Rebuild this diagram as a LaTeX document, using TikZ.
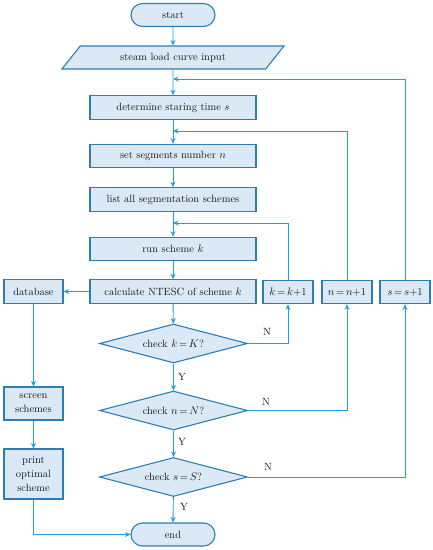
\documentclass[tikz,border=0pt]{standalone}
\usetikzlibrary{shapes.geometric,arrows.meta}
\definecolor{bfill}{HTML}{DAE9F5}
\definecolor{bdraw}{HTML}{2F7DB2}
\definecolor{conn}{HTML}{1FA0DE}
\begin{document}
\begin{tikzpicture}[x=1pt,y=-1pt,
  txt/.style={font=\fontsize{10.5}{14}\selectfont, text=black!90},
  box/.style={txt, draw=bdraw, fill=bfill, line width=1.1pt, minimum width=166, minimum height=23.5, inner sep=0},
  sbox/.style={box, minimum width=50},
  lbox/.style={box, minimum width=59, text width=57, align=center},
  term/.style={box, minimum width=84, minimum height=23, rounded corners=11.5},
  dia/.style={txt, diamond, aspect=3.8, draw=bdraw, fill=bfill, line width=1.1pt, minimum width=148, minimum height=39, inner sep=0},
  para/.style={txt, trapezium, trapezium left angle=27, trapezium right angle=153, trapezium stretches body, draw=bdraw, fill=bfill, line width=1.1pt, minimum width=222, minimum height=23, inner sep=0},
  arr/.style={draw=conn, line width=0.9pt, -{Stealth[length=5.5pt,width=5pt]}},
  lab/.style={txt, inner sep=0}
]
\useasboundingbox (0,0) rectangle (433,550);
\node[term] (start) at (173,15) {start};
\node[para] (inp) at (173,57.5) {steam load curve input};
\node[box] (det) at (173,107.5) {determine staring time $s$};
\node[box] (seg) at (173,156) {set segments number $n$};
\node[box] (lst) at (173,199.5) {list all segmentation schemes};
\node[box] (run) at (173,249) {run scheme $k$};
\node[box] (calc) at (173,291.5) {calculate NTESC of scheme $k$};
\node[lbox] (db) at (33.5,291.5) {database};
\node[sbox] (kk) at (288,292) {$k$\,=\,$k$+1};
\node[sbox] (nn) at (347,292) {$n$\,=\,$n$+1};
\node[sbox] (ss) at (405,292) {$s$\,=\,$s$+1};
\node[dia] (ck) at (173.5,343.5) {check $k$\,=\,$K$?};
\node[dia] (cn) at (173.5,410.5) {check $n$\,=\,$N$?};
\node[dia] (cs) at (173.5,477) {check $s$\,=\,$S$?};
\node[term] (end) at (173,534.5) {end};
\node[lbox, minimum height=33] (scr) at (33.5,403.5) {screen\\schemes};
\node[lbox, minimum height=50] (prt) at (33.5,474) {print\\optimal\\scheme};
\coordinate (sin) at (173,79);
\coordinate (nin) at (173,131);
\coordinate (kin) at (173,223);

\draw[arr] (start) -- (inp);
\draw[arr] (inp) -- (det);
\draw[arr] (det) -- (seg);
\draw[arr] (seg) -- (lst);
\draw[arr] (lst) -- (run);
\draw[arr] (run) -- (calc);
\draw[arr] (calc) -- (ck);
\draw[arr] (ck) -- (cn);
\draw[arr] (cn) -- (cs);
\draw[arr] (cs) -- (end);
\draw[arr] (calc) -- (db);
\draw[arr] (db) -- (scr);
\draw[arr] (scr) -- (prt);
\draw[arr] (prt.south) |- (end.west);
\draw[arr] (ck.east) -| (kk.south);
\draw[arr] (cn.east) -| (nn.south);
\draw[arr] (cs.east) -| (ss.south);
\draw[arr] (kk.north) |- (kin);
\draw[arr] (nn.north) |- (nin);
\draw[arr] (ss.north) |- (sin);

\node[lab] (n1) at (267,332) {N};
\node[lab] (n2) at (266,402) {N};
\node[lab] (n3) at (268,467) {N};
\node[lab] (y1) at (182,377) {Y};
\node[lab] (y2) at (182,442) {Y};
\node[lab] (y3) at (184,507) {Y};
\end{tikzpicture}
\end{document}
